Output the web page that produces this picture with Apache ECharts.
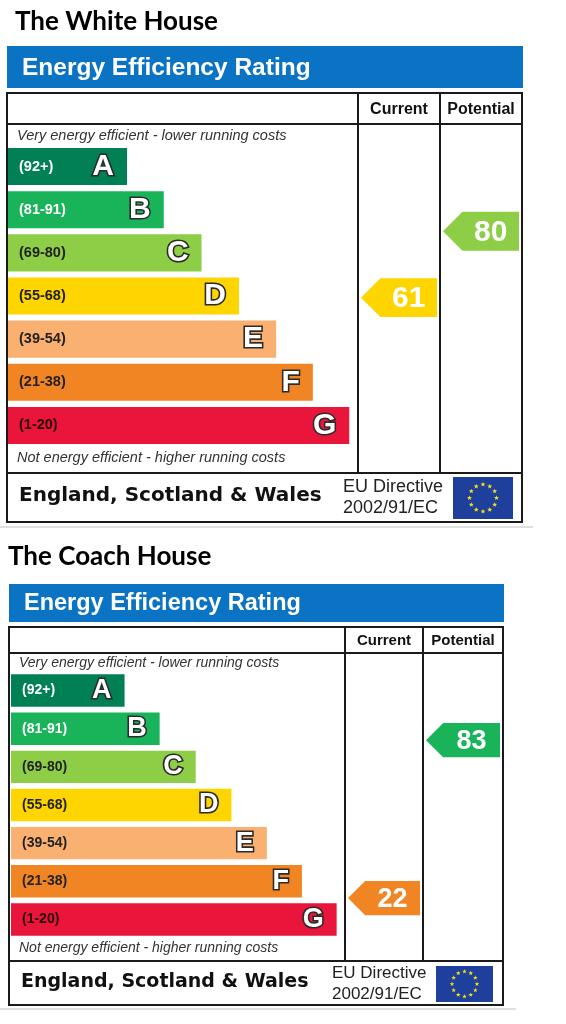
<!DOCTYPE html>
<html>
<head>
<meta charset="utf-8">
<script src="https://cdn.jsdelivr.net/npm/echarts@6/dist/echarts.min.js"></script>
<style>
html,body{margin:0;padding:0;background:#fff;}
#chart{width:566px;height:1024px;}
</style>
</head>
<body>
<div id="chart"></div>
<script>
// ---------- data ----------
const bandLetters = ['A', 'B', 'C', 'D', 'E', 'F', 'G'];
const bandRanges = ['(92+)', '(81-91)', '(69-80)', '(55-68)', '(39-54)', '(21-38)', '(1-20)'];
const bandLow = [92, 81, 69, 55, 39, 21, 1];
const bandHigh = [100, 91, 80, 68, 54, 38, 20];
const bandLength = [34, 44.5, 55.3, 66, 76.6, 87.1, 97.5];
const houseNames = ['The White House', 'The Coach House'];
const currentRating = [61, 22];
const potentialRating = [80, 83];
const headerLabels = ['Current', 'Potential'];
const topNote = 'Very energy efficient - lower running costs';
const bottomNote = 'Not energy efficient - higher running costs';
const bannerText = 'Energy Efficiency Rating';
const footerText = 'England, Scotland & Wales';
const directiveLines = ['EU Directive', '2002/91/EC'];

// ---------- styles ----------
const bandColors = ['#008054', '#19b459', '#8dce46', '#ffd500', '#f9b070', '#f28523', '#e9153b'];
const rangeTextColors = ['#ffffff', '#ffffff', '#222', '#222', '#222', '#222', '#2a0a0a'];
const ARIAL = '"Liberation Sans", Arial, sans-serif';

// ---------- layout (one per chart) ----------
const layouts = [
  { titleX: 15, titleY: 22, titleFont: 26,
    bannerX: 7, bannerY: 46, bannerW: 516, bannerH: 42, bannerFont: 24.5, bannerTextX: 22,
    boxX: 7, boxY: 93, boxW: 515, boxH: 429, headerBottom: 124, col1: 358, col2: 440, footerY: 473,
    headerFont: 16, noteFont: 14.5, noteX: 17, topNoteY: 136, bottomNoteY: 458,
    barsX: 8, barsW: 350, barsTop: 145, barsH: 302, gap: '14%', rangeFont: 14.5, letterFont: 30,
    arrowFont: 30, footFont: 20, footX: 19, footY: 496, dirX: 343, dirY1: 487, dirY2: 508, dirFont: 18,
    flagX: 453, flagY: 477, flagW: 60, flagH: 42, ring: 13.5, star: 2.6, sepY: 527, sepW: 533 },
  { titleX: 8, titleY: 557, titleFont: 26,
    bannerX: 9, bannerY: 584, bannerW: 495, bannerH: 38, bannerFont: 23.5, bannerTextX: 24,
    boxX: 9, boxY: 627, boxW: 494, boxH: 378, headerBottom: 653, col1: 345, col2: 423, footerY: 961,
    headerFont: 15, noteFont: 14, noteX: 19, topNoteY: 663, bottomNoteY: 948,
    barsX: 11, barsW: 334, barsTop: 671.5, barsH: 267, gap: '15%', rangeFont: 14, letterFont: 27,
    arrowFont: 27, footFont: 19, footX: 21, footY: 982, dirX: 332, dirY1: 973, dirY2: 994, dirFont: 17,
    flagX: 436, flagY: 966, flagW: 57, flagH: 36, ring: 12.5, star: 2.4, sepY: 1009, sepW: 516 }
];

function bandIndexOf(v) {
  for (let i = 0; i < bandLow.length; i++) { if (v >= bandLow[i]) return i; }
  return bandLow.length - 1;
}
function bandPosition(v) {
  const i = bandIndexOf(v);
  return (6 - i) + (v - bandLow[i]) / (bandHigh[i] - bandLow[i]);
}

function txt(text, x, y, font, fill, align, valign) {
  return { type: 'text', silent: true, style: {
    text: text, x: x, y: y, font: font, fill: fill,
    align: align || 'left', verticalAlign: valign || 'middle',
    textAlign: align || 'left', textVerticalAlign: valign || 'middle' } };
}
function line(x1, y1, x2, y2, color, w) {
  return { type: 'line', silent: true, shape: { x1: x1, y1: y1, x2: x2, y2: y2 },
    style: { stroke: color, lineWidth: w } };
}

const grids = [], xAxes = [], yAxes = [], series = [], graphics = [];

layouts.forEach(function (L, c) {
  // --- decorations / frame ---
  graphics.push(txt(houseNames[c], L.titleX, L.titleY, 'bold ' + L.titleFont + 'px Lato, "Open Sans", sans-serif', '#000'));
  graphics.push({ type: 'rect', silent: true, shape: { x: L.bannerX, y: L.bannerY, width: L.bannerW, height: L.bannerH },
    style: { fill: '#0b73c4' } });
  graphics.push(txt(bannerText, L.bannerTextX, L.bannerY + L.bannerH / 2 + 1, 'bold ' + L.bannerFont + 'px ' + ARIAL, '#fff'));
  graphics.push(line(0, L.sepY, L.sepW, L.sepY, '#d4d4d4', 1.5));
  graphics.push({ type: 'rect', silent: true, z: 10, shape: { x: L.boxX, y: L.boxY, width: L.boxW, height: L.boxH },
    style: { fill: 'none', stroke: '#1a1a1a', lineWidth: 2 } });
  graphics.push(line(L.boxX, L.headerBottom, L.boxX + L.boxW, L.headerBottom, '#1a1a1a', 2));
  graphics.push(line(L.boxX, L.footerY, L.boxX + L.boxW, L.footerY, '#1a1a1a', 2));
  graphics.push(line(L.col1, L.boxY, L.col1, L.footerY, '#1a1a1a', 2));
  graphics.push(line(L.col2, L.boxY, L.col2, L.footerY, '#1a1a1a', 2));
  const hy = (L.boxY + L.headerBottom) / 2 + 1;
  graphics.push(txt(headerLabels[0], (L.col1 + L.col2) / 2, hy, 'bold ' + L.headerFont + 'px ' + ARIAL, '#111', 'center'));
  graphics.push(txt(headerLabels[1], (L.col2 + L.boxX + L.boxW) / 2, hy, 'bold ' + L.headerFont + 'px ' + ARIAL, '#111', 'center'));
  graphics.push(txt(topNote, L.noteX, L.topNoteY, 'italic ' + L.noteFont + 'px ' + ARIAL, '#333'));
  graphics.push(txt(bottomNote, L.noteX, L.bottomNoteY, 'italic ' + L.noteFont + 'px ' + ARIAL, '#333'));
  graphics.push(txt(footerText, L.footX, L.footY, 'bold ' + L.footFont + 'px "DejaVu Sans", Verdana, sans-serif', '#111'));
  graphics.push(txt(directiveLines[0], L.dirX, L.dirY1, L.dirFont + 'px ' + ARIAL, '#222'));
  graphics.push(txt(directiveLines[1], L.dirX, L.dirY2, L.dirFont + 'px ' + ARIAL, '#222'));
  // EU flag
  graphics.push({ type: 'rect', silent: true, shape: { x: L.flagX, y: L.flagY, width: L.flagW, height: L.flagH },
    style: { fill: '#1f3f9c' } });
  const fcx = L.flagX + L.flagW / 2, fcy = L.flagY + L.flagH / 2;
  for (let k = 0; k < 12; k++) {
    const a = k * Math.PI / 6;
    const sx = fcx + L.ring * Math.sin(a), sy = fcy - L.ring * Math.cos(a);
    const pts = [];
    for (let j = 0; j < 10; j++) {
      const r = j % 2 === 0 ? L.star : L.star * 0.42;
      const b = j * Math.PI / 5;
      pts.push([sx + r * Math.sin(b), sy - r * Math.cos(b)]);
    }
    graphics.push({ type: 'polygon', silent: true, shape: { points: pts }, style: { fill: '#f7e21a' } });
  }

  // --- bar grid ---
  const g0 = grids.length;
  grids.push({ left: L.barsX, top: L.barsTop, width: L.barsW, height: L.barsH, containLabel: false });
  xAxes.push({ gridIndex: g0, type: 'value', min: 0, max: 100, show: false });
  yAxes.push({ gridIndex: g0, type: 'category', data: bandLetters, inverse: true, show: false });
  series.push({
    type: 'bar', xAxisIndex: g0, yAxisIndex: g0, silent: true, barCategoryGap: L.gap, barGap: '-100%',
    data: bandLength.map(function (v, i) {
      return { value: v, itemStyle: { color: bandColors[i] },
        label: { color: rangeTextColors[i] } };
    }),
    label: { show: true, position: 'insideLeft', distance: 11,
      formatter: function (p) { return bandRanges[p.dataIndex]; },
      fontFamily: ARIAL, fontWeight: 'bold', fontSize: L.rangeFont }
  });
  series.push({
    type: 'bar', xAxisIndex: g0, yAxisIndex: g0, silent: true, barCategoryGap: L.gap, barGap: '-100%',
    data: bandLength.slice(),
    itemStyle: { color: 'rgba(0,0,0,0)' },
    label: { show: true, position: 'insideRight', distance: 13,
      formatter: function (p) { return bandLetters[p.dataIndex]; },
      fontFamily: ARIAL, fontWeight: 'bold', fontSize: L.letterFont,
      color: '#ffffff', textBorderColor: '#2b2b2b', textBorderWidth: 3.2 }
  });

  // --- arrow grids (Current, Potential) ---
  const ratings = [currentRating[c], potentialRating[c]];
  const colLeft = [L.col1, L.col2];
  const colRight = [L.col2, L.boxX + L.boxW];
  ratings.forEach(function (rating, k) {
    const gi = grids.length;
    grids.push({ left: colLeft[k] + 3, top: L.barsTop, width: colRight[k] - colLeft[k] - 6, height: L.barsH });
    xAxes.push({ gridIndex: gi, type: 'value', min: 0, max: 1, show: false });
    yAxes.push({ gridIndex: gi, type: 'value', min: 0, max: 7, show: false });
    const color = bandColors[bandIndexOf(rating)];
    series.push({
      type: 'custom', xAxisIndex: gi, yAxisIndex: gi, silent: true,
      data: [[0, bandPosition(rating), rating]],
      renderItem: function (params, api) {
        const yv = api.value(1);
        const p0 = api.coord([0, yv]);
        const p1 = api.coord([1, yv]);
        const band = api.size([0, 1])[1];
        const h = band * 0.9, tip = h / 2;
        const cy = p0[1];
        const pts = [[p0[0], cy], [p0[0] + tip, cy - h / 2], [p1[0], cy - h / 2], [p1[0], cy + h / 2], [p0[0] + tip, cy + h / 2]];
        return { type: 'group', children: [
          { type: 'polygon', shape: { points: pts }, style: { fill: color } },
          { type: 'text', style: { text: String(api.value(2)), x: (p0[0] + tip + p1[0]) / 2, y: cy + 1,
              font: 'bold ' + L.arrowFont + 'px ' + ARIAL, fill: '#ffffff',
              align: 'center', verticalAlign: 'middle', textAlign: 'center', textVerticalAlign: 'middle' } }
        ] };
      }
    });
  });
});

const chart = echarts.init(document.getElementById('chart'), null, { renderer: 'canvas' });
chart.setOption({
  animation: false,
  backgroundColor: '#ffffff',
  grid: grids,
  xAxis: xAxes,
  yAxis: yAxes,
  series: series,
  graphic: { elements: graphics }
});
</script>
</body>
</html>
